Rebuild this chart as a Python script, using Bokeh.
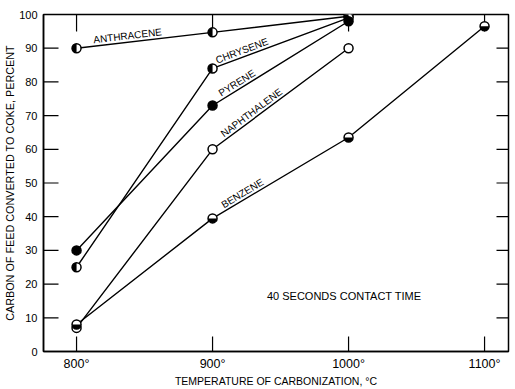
import math
import numpy as np
from bokeh.plotting import figure
from bokeh.models import FixedTicker, Range1d, Label, ColumnDataSource
from bokeh.core.properties import value
from bokeh.embed import file_html
from bokeh.resources import INLINE

# ---- data ----
temps = [800, 900, 1000]
benzene_temps = [800, 900, 1000, 1100]
anthracene = [90, 94.7, 99.5]
chrysene = [25, 84, 99]
pyrene = [30, 73, 98]
naphthalene = [7, 60, 90]
benzene = [8, 39.5, 63.5, 96.5]

x_ticks = [800, 900, 1000, 1100]
x_tick_labels = ["800°", "900°", "1000°", "1100°"]
y_ticks = [0, 10, 20, 30, 40, 50, 60, 70, 80, 90, 100]

series_names = ["ANTHRACENE", "CHRYSENE", "PYRENE", "NAPHTHALENE", "BENZENE"]
label_at_temp = [838, 923, 920, 931, 924]
note_text = "40 SECONDS CONTACT TIME"

FONT = "Liberation Sans"
W, H = 515, 389
BL, BR, BT, BB = 43, 7, 14, 35
X0, X1 = 775.7, 1117.6
Y0, Y1 = 0, 100

p = figure(width=W, height=H, x_range=Range1d(X0, X1), y_range=Range1d(Y0, Y1),
           output_backend="svg", toolbar_location=None,
           min_border_left=BL, min_border_right=BR, min_border_top=BT, min_border_bottom=BB,
           x_axis_label="TEMPERATURE OF CARBONIZATION, °C",
           y_axis_label="CARBON OF FEED CONVERTED TO COKE, PERCENT")
p.grid.visible = False
p.outline_line_color = "black"
p.outline_line_width = 1.5
p.background_fill_color = "white"
p.border_fill_color = "white"

def style_axis(ax):
    ax.axis_line_color = "black"
    ax.axis_line_width = 1.5
    ax.major_tick_line_color = None
    ax.major_tick_in = 0
    ax.major_tick_out = 0
    ax.minor_tick_line_color = None
    ax.major_label_text_font = FONT
    ax.major_label_text_color = "black"
    ax.axis_label_text_font = FONT
    ax.axis_label_text_font_style = "normal"
    ax.axis_label_text_color = "black"

xa = p.xaxis[0]
xa.ticker = FixedTicker(ticks=x_ticks)
xa.major_label_overrides = {t: l for t, l in zip(x_ticks, x_tick_labels)}
style_axis(xa)
xa.major_label_text_font_size = "12.5px"
xa.axis_label_text_font_size = "10.5px"
xa.major_label_standoff = 5
xa.axis_label_standoff = 1

ya = p.yaxis[0]
ya.ticker = FixedTicker(ticks=y_ticks)
style_axis(ya)
ya.major_label_text_font_size = "11px"
ya.axis_label_text_font_size = "10.8px"
ya.major_label_standoff = 6
ya.axis_label_standoff = 0

# inward tick marks on all four sides, at the tick values
TK = dict(line_color="black", line_width=1.2, length_units="screen")
nx, ny = len(x_ticks), len(y_ticks)
p.ray(x=x_ticks, y=[Y0] * nx, length=15, angle=math.pi / 2, **TK)
p.ray(x=x_ticks, y=[Y1] * nx, length=17, angle=-math.pi / 2, **TK)
p.ray(x=[X0] * ny, y=y_ticks, length=15, angle=0, **TK)
p.ray(x=[X1] * ny, y=y_ticks, length=12, angle=math.pi, **TK)

LW = 1.4
R = 4.5
all_series = [(temps, anthracene, "left"), (temps, chrysene, "left"),
              (temps, pyrene, "full"), (temps, naphthalene, "open"),
              (benzene_temps, benzene, "bottom")]

for xs, ys, kind in all_series:
    p.line(xs, ys, line_color="black", line_width=LW)

for xs, ys, kind in all_series:
    p.scatter(xs, ys, marker="circle", size=2 * R,
              fill_color="black" if kind == "full" else "white",
              line_color="black", line_width=1.5)
    if kind == "left":
        p.wedge(xs, ys, radius=R, radius_units="screen",
                start_angle=math.pi / 2, end_angle=3 * math.pi / 2,
                fill_color="black", line_color=None)
    elif kind == "bottom":
        p.wedge(xs, ys, radius=R, radius_units="screen",
                start_angle=math.pi, end_angle=2 * math.pi,
                fill_color="black", line_color=None)

# rotated series labels along their lines
px_x = (W - BL - BR) / (X1 - X0)
px_y = (H - BT - BB) / (Y1 - Y0)
lx, ly, la = [], [], []
for (xs, ys, kind), t in zip(all_series, label_at_temp):
    yv = float(np.interp(t, xs, ys))
    i = int(np.searchsorted(xs, t)) - 1
    ang = math.atan2((ys[i + 1] - ys[i]) * px_y, (xs[i + 1] - xs[i]) * px_x)
    lx.append(t)
    ly.append(yv)
    la.append(ang)
src = ColumnDataSource(dict(x=lx, y=ly, text=series_names, angle=la))
p.text(x="x", y="y", text="text", angle="angle", source=src,
       text_align="center", text_baseline="bottom", y_offset=-1,
       text_font=value(FONT), text_font_size="10px", text_color="black")

p.add_layout(Label(x=940, y=16.5, text=note_text, text_font=FONT,
                   text_font_size="11px", text_color="black",
                   text_baseline="middle", text_align="left"))

open("out.html", "w").write(file_html(p, INLINE))
